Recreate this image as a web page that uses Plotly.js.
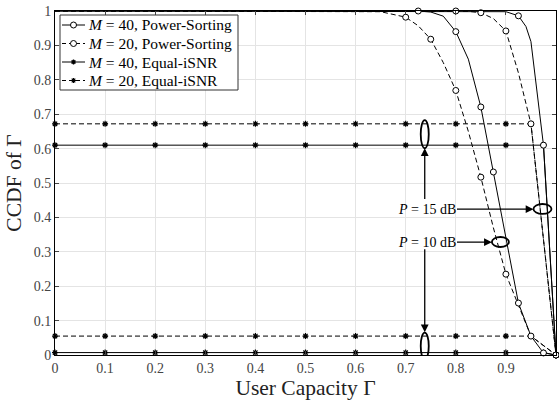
<!DOCTYPE html>
<html><head><meta charset="utf-8">
<script src="https://cdn.plot.ly/plotly-3.0.1.min.js"></script>
<style>html,body{margin:0;padding:0;background:#fff}#plot{width:559px;height:403px}</style>
</head><body><div id="plot"></div>
<script>
// ---- data ----
const xTickVals = [0,0.1,0.2,0.3,0.4,0.5,0.6,0.7,0.8,0.9,1];
const xTickText = ['0','0.1','0.2','0.3','0.4','0.5','0.6','0.7','0.8','0.9','1'];
const yTickVals = [0,0.1,0.2,0.3,0.4,0.5,0.6,0.7,0.8,0.9,1];
const yTickText = ['0','0.1','0.2','0.3','0.4','0.5','0.6','0.7','0.8','0.9','1'];

// Power-Sorting, M=40, P=10 dB (solid)
const ps40p10_x = [0,0.6,0.7,0.725,0.75,0.775,0.8,0.825,0.85,0.875,0.9,0.925,0.95,0.975,1];
const ps40p10_y = [1,1,1,1,0.997,0.985,0.94,0.86,0.721,0.532,0.34,0.151,0.055,0.006,0];
const ps40p10_mx = [0.725,0.8,0.85,0.875,0.925,0.975,1];
const ps40p10_my = [1,0.94,0.721,0.532,0.151,0.006,0];
// Power-Sorting, M=20, P=10 dB (dashed)
const ps20p10_x = [0,0.6,0.65,0.7,0.725,0.75,0.775,0.8,0.825,0.85,0.875,0.9,0.95,1];
const ps20p10_y = [1,1,0.998,0.982,0.957,0.918,0.85,0.769,0.65,0.517,0.37,0.235,0.055,0];
const ps20p10_mx = [0.7,0.75,0.8,0.85,0.9,0.95,1];
const ps20p10_my = [0.982,0.918,0.769,0.517,0.235,0.055,0];
// Power-Sorting, M=40, P=15 dB (solid)
const ps40p15_x = [0,0.875,0.9,0.925,0.94,0.95,0.975,1];
const ps40p15_y = [1,1,0.998,0.986,0.955,0.911,0.61,0];
const ps40p15_mx = [0.925,0.975,1];
const ps40p15_my = [0.986,0.61,0];
// Power-Sorting, M=20, P=15 dB (dashed)
const ps20p15_x = [0,0.8,0.825,0.85,0.875,0.9,0.925,0.95,1];
const ps20p15_y = [1,1,0.999,0.995,0.978,0.942,0.82,0.672,0];
const ps20p15_mx = [0.8,0.85,0.9,0.95,1];
const ps20p15_my = [1,0.995,0.942,0.672,0];

// Equal-iSNR
const eq40p15_x = [0,0.1,0.2,0.3,0.4,0.5,0.6,0.7,0.8,0.9,0.975,1];
const eq40p15_y = [0.61,0.61,0.61,0.61,0.61,0.61,0.61,0.61,0.61,0.61,0.61,0];
const eq20p15_x = [0,0.1,0.2,0.3,0.4,0.5,0.6,0.7,0.8,0.9,0.95,1];
const eq20p15_y = [0.672,0.672,0.672,0.672,0.672,0.672,0.672,0.672,0.672,0.672,0.672,0];
const eq40p10_x = [0,0.1,0.2,0.3,0.4,0.5,0.6,0.7,0.8,0.9,0.975,1];
const eq40p10_y = [0.007,0.007,0.007,0.007,0.007,0.007,0.007,0.007,0.007,0.007,0.007,0];
const eq20p10_x = [0,0.1,0.2,0.3,0.4,0.5,0.6,0.7,0.8,0.9,0.95,1];
const eq20p10_y = [0.055,0.055,0.055,0.055,0.055,0.055,0.055,0.055,0.055,0.055,0.055,0];

const legendNames = ['<i>M</i> = 40, Power-Sorting','<i>M</i> = 20, Power-Sorting','<i>M</i> = 40, Equal-iSNR','<i>M</i> = 20, Equal-iSNR'];
const legendDash = ['solid','dash','solid','dash'];
const legendMark = ['circle','circle','asterisk','asterisk'];

// ---- styles ----
const DASH = '5px,3px';
const circ = {symbol:'circle', size:6, color:'#fff', line:{color:'#000', width:1}};
const star = {symbol:'asterisk', size:5, color:'#000', line:{color:'#000', width:1.2}};

function lineTr(x,y,dash){return {x:x,y:y,mode:'lines',line:{color:'#000',width:1,dash:dash},showlegend:false,hoverinfo:'skip',cliponaxis:false};}
function mkTr(x,y,m){return {x:x,y:y,mode:'markers',marker:m,showlegend:false,hoverinfo:'skip',cliponaxis:false};}

const traces = [
  lineTr(eq40p15_x,eq40p15_y,'solid'), mkTr(eq40p15_x,eq40p15_y,star),
  lineTr(eq20p15_x,eq20p15_y,DASH), mkTr(eq20p15_x,eq20p15_y,star),
  lineTr(eq40p10_x,eq40p10_y,'solid'), mkTr(eq40p10_x,eq40p10_y,star),
  lineTr(eq20p10_x,eq20p10_y,DASH), mkTr(eq20p10_x,eq20p10_y,star),
  lineTr(ps40p10_x,ps40p10_y,'solid'), lineTr(ps20p10_x,ps20p10_y,DASH),
  lineTr(ps40p15_x,ps40p15_y,'solid'), lineTr(ps20p15_x,ps20p15_y,DASH),
  mkTr(ps40p10_mx,ps40p10_my,circ), mkTr(ps20p10_mx,ps20p10_my,circ),
  mkTr(ps40p15_mx,ps40p15_my,circ), mkTr(ps20p15_mx,ps20p15_my,circ)
];

const SERIF = 'Liberation Serif, DejaVu Serif, serif';
const ell = (x0,x1,y0,y1)=>({type:'circle',xref:'x',yref:'y',x0:x0,x1:x1,y0:y0,y1:y1,line:{color:'#000',width:1.8}});
const arr = (x,y,ax,ay,text)=>({x:x,y:y,ax:ax,ay:ay,xref:'x',yref:'y',axref:'x',ayref:'y',text:text,showarrow:true,arrowhead:2,arrowsize:1.2,arrowwidth:1.3,arrowcolor:'#000',font:{family:SERIF,size:14,color:'#000'},bgcolor:'rgba(0,0,0,0)',borderpad:0});

// ---- hand-drawn legend (layout only, in paper coordinates) ----
const W = 559, H = 403, ML = 55, MR = 3, MT = 11, MB = 48;
const PW = W-ML-MR, PH = H-MT-MB;
const px = v => (v-ML)/PW, py = v => (H-MB-v)/PH;
const legShapes = [], legAnn = [];
legShapes.push({type:'rect',xref:'paper',yref:'paper',x0:px(60),x1:px(238),y0:py(90),y1:py(15),fillcolor:'#fff',line:{color:'#333',width:1},layer:'above'});
const rows = [25,43.5,62,80.5];
rows.forEach((r,i)=>{
  legShapes.push({type:'line',xref:'paper',yref:'paper',x0:px(62),x1:px(85),y0:py(r),y1:py(r),line:{color:'#000',width:1,dash:legendDash[i]==='solid'?'solid':'4px,3px'},layer:'above'});
  if(legendMark[i]==='circle'){
    legShapes.push({type:'circle',xref:'paper',yref:'paper',xsizemode:'pixel',ysizemode:'pixel',xanchor:px(73.5),yanchor:py(r),x0:-3,x1:3,y0:-3,y1:3,fillcolor:'#fff',line:{color:'#000',width:1},layer:'above'});
  } else {
    legShapes.push({type:'path',xref:'paper',yref:'paper',xsizemode:'pixel',ysizemode:'pixel',xanchor:px(73.5),yanchor:py(r),
      path:'M-2.5,0L2.5,0M0,-2.5L0,2.5M-1.8,-1.8L1.8,1.8M-1.8,1.8L1.8,-1.8',line:{color:'#000',width:1.2},layer:'above'});
  }
  legAnn.push({xref:'paper',yref:'paper',x:px(86),y:py(r),xanchor:'left',yanchor:'middle',text:legendNames[i],showarrow:false,font:{family:SERIF,size:15.5,color:'#000'}});
});

const layout = {
  width:W, height:H,
  margin:{l:ML,r:MR,t:MT,b:MB},
  paper_bgcolor:'#fff', plot_bgcolor:'#fff',
  font:{family:SERIF,color:'#000',size:13},
  showlegend:false,
  xaxis:{range:[0,1],tickvals:xTickVals,ticktext:xTickText,ticks:'inside',ticklen:4,mirror:'ticks',showline:true,linecolor:'#000',linewidth:1,
         showgrid:true,gridcolor:'#e4e4e4',zeroline:false,tickfont:{family:SERIF,size:14,color:'#444'},
         title:{text:'User Capacity Γ',font:{family:SERIF,size:21.5,color:'#222'},standoff:3}},
  yaxis:{range:[0,1],tickvals:yTickVals,ticktext:yTickText,ticks:'inside',ticklen:4,mirror:'ticks',showline:true,linecolor:'#000',linewidth:1,
         showgrid:true,gridcolor:'#e4e4e4',zeroline:false,tickfont:{family:SERIF,size:14,color:'#444'},
         title:{text:'CCDF of Γ',font:{family:SERIF,size:21.5,color:'#222'},standoff:6}},
  shapes:[
    ell(0.730,0.746,0.601,0.683),
    ell(0.730,0.746,-0.013,0.065),
    ell(0.955,0.991,0.410,0.439),
    ell(0.872,0.906,0.314,0.343)
  ].concat(legShapes),
  annotations:[
    arr(0.955,0.424,0.7435,0.424,'<i>P</i> = 15 dB'),
    arr(0.872,0.328,0.7435,0.328,'<i>P</i> = 10 dB'),
    arr(0.738,0.601,0.738,0.452,''),
    arr(0.738,0.066,0.738,0.309,'')
  ].concat(legAnn)
};
Plotly.newPlot('plot',traces,layout,{displayModeBar:false,staticPlot:true});
</script></body></html>
